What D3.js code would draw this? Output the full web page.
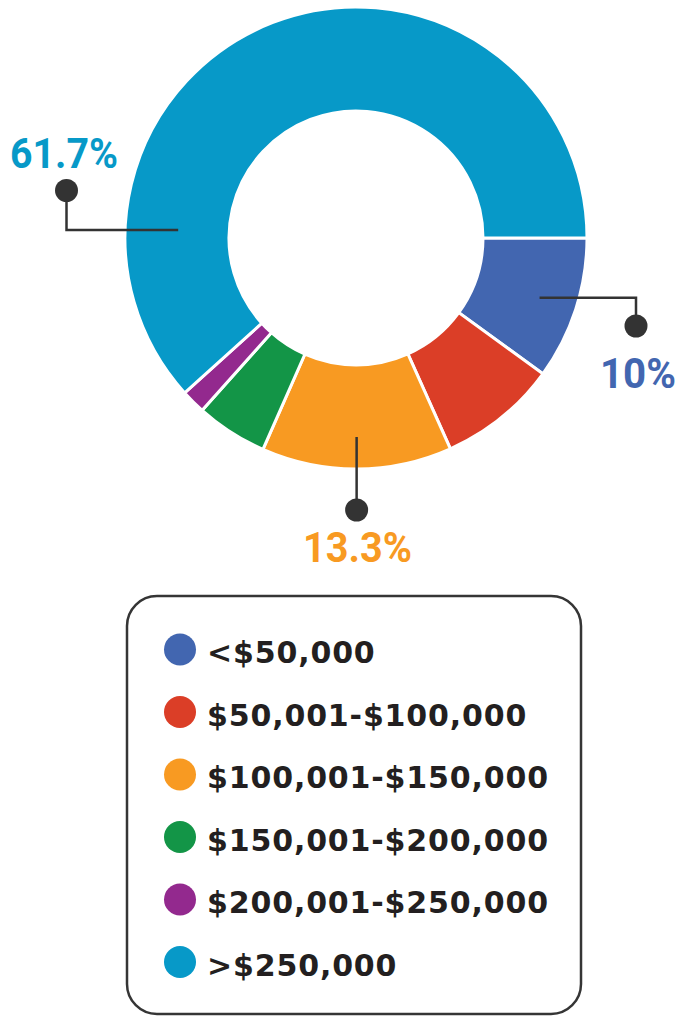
<!DOCTYPE html>
<html><head><meta charset="utf-8">
<script src="https://cdn.jsdelivr.net/npm/d3@7"></script>
<style>html,body{margin:0;padding:0;background:#fff;}svg{display:block;}</style>
</head><body>
<svg id="chart" width="683" height="1016"></svg>
<script>
const categories = ["<$50,000", "$50,001-$100,000", "$100,001-$150,000", "$150,001-$200,000", "$200,001-$250,000", ">$250,000"];
const values = [10, 8.3, 13.3, 5.0, 1.7, 61.7];
const colors = ["#4266b0", "#db3e27", "#f89a22", "#139547", "#93298e", "#0799c8"];
const labelText = ["61.7%", "10%", "13.3%"];

const svg = d3.select("#chart");
const cx = 356, cy = 238, rOuter = 231, rInner = 127;
const g = svg.append("g").attr("transform", `translate(${cx},${cy})`);

const data = categories.map((c, i) => ({cat: c, value: values[i], color: colors[i]}));
const pie = d3.pie().value(d => d.value).sort(null)
  .startAngle(Math.PI / 2).endAngle(Math.PI / 2 + 2 * Math.PI);
const arcs = pie(data);
const arc = d3.arc().innerRadius(rInner).outerRadius(rOuter);

g.selectAll("path.slice").data(arcs).join("path")
  .attr("class", "slice")
  .attr("d", arc)
  .attr("fill", d => d.data.color)
  .attr("stroke", "#fff")
  .attr("stroke-width", 3)
  .attr("stroke-linejoin", "miter");

const lineColor = "#333333";
const pt = (ang, r) => [cx + r * Math.sin(ang), cy - r * Math.cos(ang)];
const byCat = Object.fromEntries(arcs.map(a => [a.data.cat, a]));
const labelFont = sel => sel.attr("font-family", "Roboto").attr("font-weight", "bold")
  .attr("font-size", 42).attr("lengthAdjust", "spacingAndGlyphs");

// >$250,000
{
  const ang = Math.PI * 1.5 + 0.045;
  const p = pt(ang, 178);
  const ex = 66.5, dotY = 190.5;
  svg.append("path").attr("d", `M${p[0]},${p[1]}H${ex}V${dotY}`)
    .attr("fill", "none").attr("stroke", lineColor).attr("stroke-width", 2.5);
  svg.append("circle").attr("cx", ex).attr("cy", dotY).attr("r", 11.5).attr("fill", lineColor);
  svg.append("text").attr("x", 10).attr("y", 168).call(labelFont)
    .attr("textLength", 108).attr("fill", colors[5]).text(labelText[0]);
}
// <$50,000
{
  const a = byCat["<$50,000"];
  const ang = (a.startAngle + a.endAngle) / 2;
  const p = pt(ang, 193);
  const ex = 636, dotY = 326;
  svg.append("path").attr("d", `M${p[0]},${p[1]}H${ex}V${dotY}`)
    .attr("fill", "none").attr("stroke", lineColor).attr("stroke-width", 2.5);
  svg.append("circle").attr("cx", ex).attr("cy", dotY).attr("r", 11.5).attr("fill", lineColor);
  svg.append("text").attr("x", 600).attr("y", 388).call(labelFont)
    .attr("textLength", 76).attr("fill", colors[0]).text(labelText[1]);
}
// $100,001-$150,000
{
  const a = byCat["$100,001-$150,000"];
  const ang = (a.startAngle + a.endAngle) / 2;
  const p = pt(ang, 199);
  const dotY = 510;
  svg.append("path").attr("d", `M${p[0]},${p[1]}V${dotY}`)
    .attr("fill", "none").attr("stroke", lineColor).attr("stroke-width", 2.5);
  svg.append("circle").attr("cx", p[0]).attr("cy", dotY).attr("r", 11.5).attr("fill", lineColor);
  svg.append("text").attr("x", 303).attr("y", 562).call(labelFont)
    .attr("textLength", 109).attr("fill", colors[2]).text(labelText[2]);
}

// legend
svg.append("rect").attr("x", 127).attr("y", 596).attr("width", 454).attr("height", 418)
  .attr("rx", 30).attr("ry", 30)
  .attr("fill", "none").attr("stroke", "#353535").attr("stroke-width", 2.5);

const ly = d3.scalePoint().domain(categories).range([649.5, 962]);
const items = svg.selectAll("g.leg").data(data).join("g").attr("class", "leg")
  .attr("transform", d => `translate(0,${ly(d.cat)})`);
items.append("circle").attr("cx", 180).attr("cy", 0).attr("r", 16).attr("fill", d => d.color);
items.append("text").attr("x", 207).attr("y", 13.5)
  .attr("font-family", "DejaVu Sans").attr("font-weight", "bold").attr("font-size", 30)
  .attr("letter-spacing", 0.85)
  .attr("fill", "#231f20").text(d => d.cat);
</script>
</body></html>
